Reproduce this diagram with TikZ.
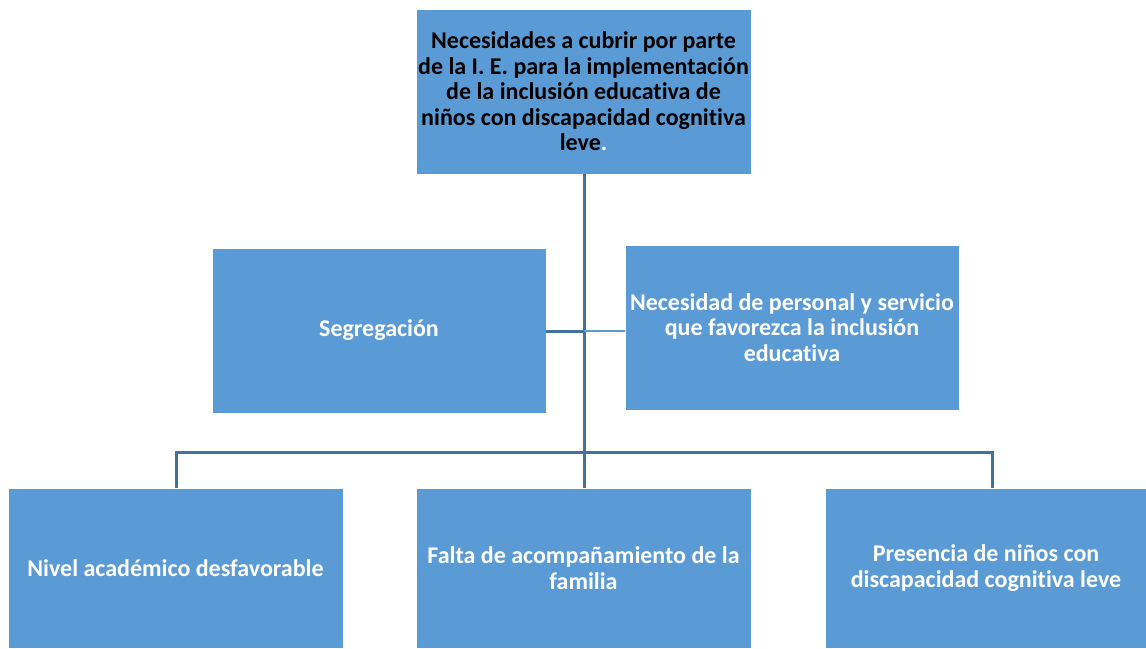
\documentclass[tikz,border=0pt]{standalone}
\usepackage{fontspec}
\setmainfont[Ligatures=NoCommon]{Carlito}
\definecolor{boxblue}{HTML}{5B9BD5}
\definecolor{linedark}{HTML}{41719C}
\begin{document}
\begin{tikzpicture}[x=1pt,y=-1pt,
  box/.style={fill=boxblue,draw=white,line width=0.8pt,inner sep=0pt,align=center,font=\fontsize{24}{25.5}\selectfont\bfseries},
  wtext/.style={text=white},
  btext/.style={text=black},
  conn/.style={draw=linedark,line width=3pt},
  connl/.style={draw=boxblue,line width=1.6pt}]
\useasboundingbox (0,0) rectangle (1146,648);
\node[box,btext,minimum width=335pt,minimum height=165pt] (top) at (583.5,91.5)
  {Necesidades a cubrir por parte\\de la I. E. para la implementación\\de la inclusión educativa de\\niños con discapacidad cognitiva\\leve\textcolor{white}{.}};
\node[box,wtext,minimum width=334pt,minimum height=165pt] (seg) at (379,330.5) {Segregación};
\node[box,wtext,minimum width=334pt,minimum height=165pt] (nec) at (792,327.5)
  {Necesidad de personal y servicio\\que favorezca la inclusión\\educativa};
\node[box,wtext,minimum width=335pt,minimum height=160pt] (niv) at (175.5,568) {Nivel académico desfavorable};
\node[box,wtext,minimum width=335pt,minimum height=160pt] (fal) at (583.5,568) {Falta de acompañamiento de la\\familia};
\node[box,wtext,minimum width=322pt,minimum height=160pt] (pre) at (986,568) {Presencia de niños con\\discapacidad cognitiva leve};
\coordinate (bus) at (584,452);
\coordinate (mid) at (584,331);
\draw[conn] (top.south -| bus) -- (bus);
\draw[conn] (seg.east |- mid) -- (mid);
\draw[connl] (mid) -- (nec.west |- mid);
\draw[conn] (niv.north -| 176,0) -- (176,452) -- (992,452) -- (pre.north -| 992,0);
\draw[conn] (bus) -- (fal.north -| bus);
\end{tikzpicture}
\end{document}
